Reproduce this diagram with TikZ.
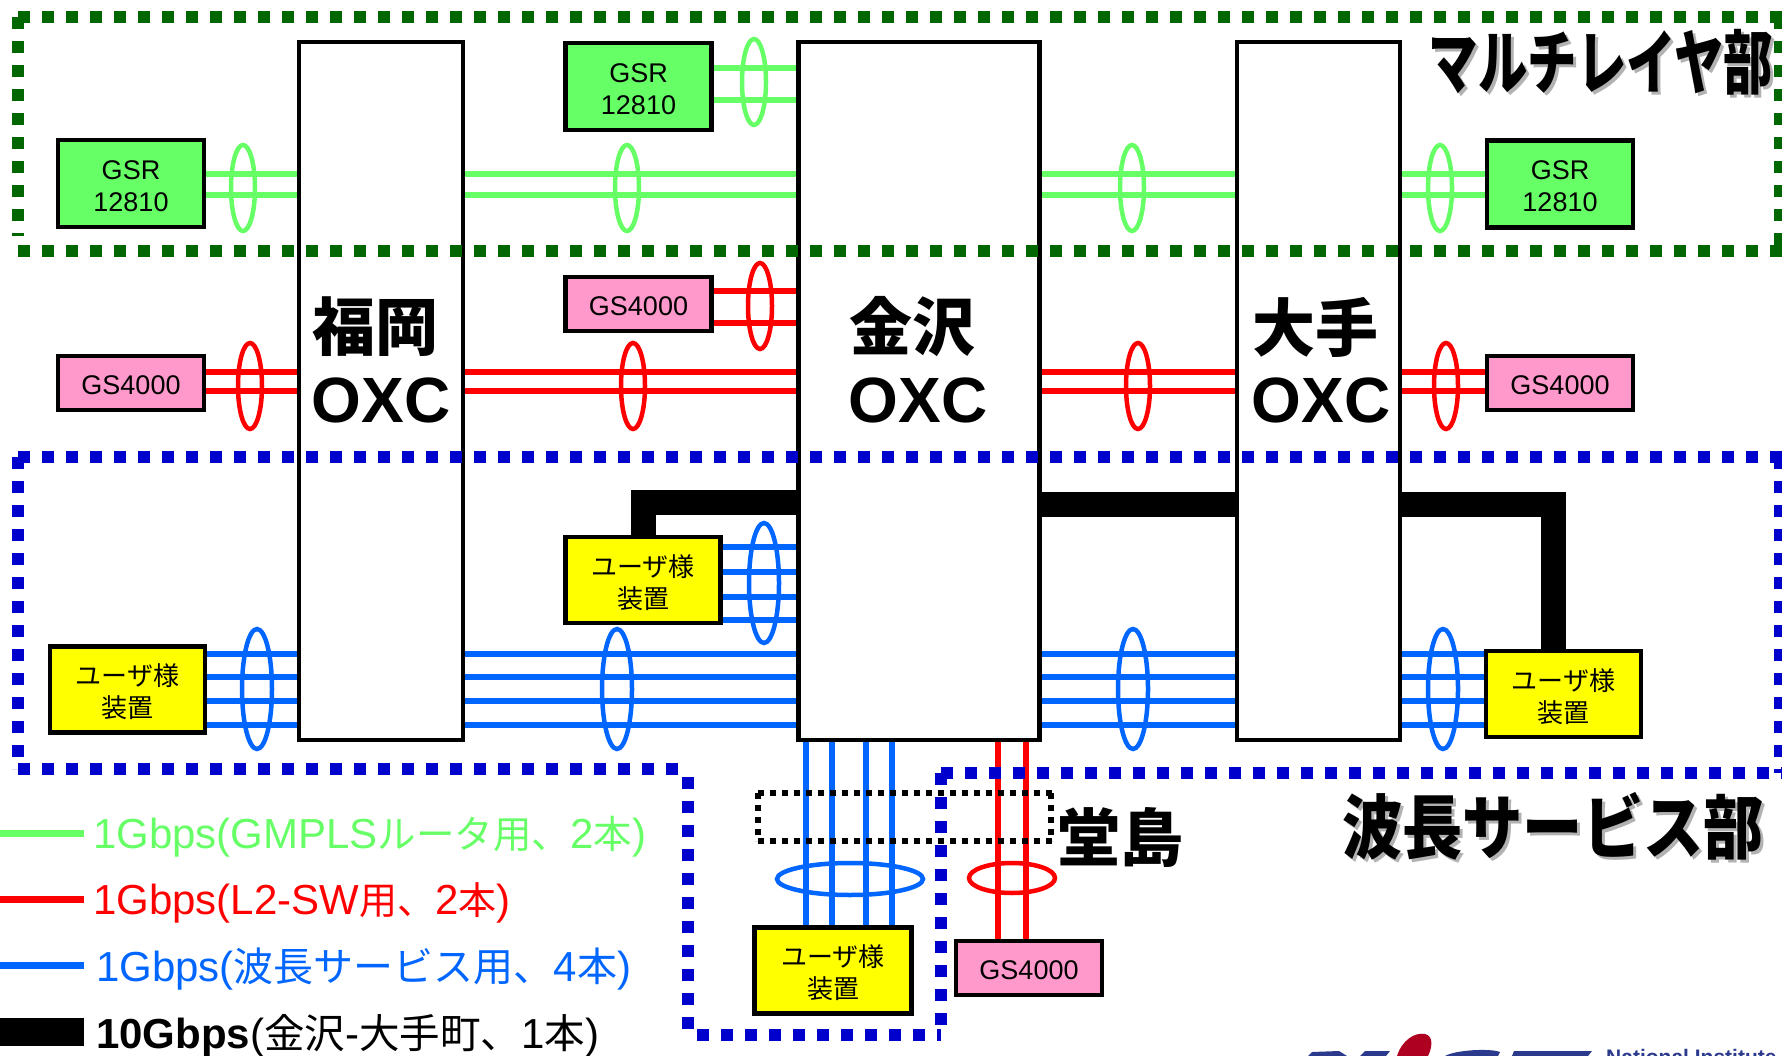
\documentclass[tikz,border=0pt]{standalone}
\usepackage{fontspec}
\usetikzlibrary{shapes.geometric}
\setmainfont{Liberation Sans}
\newfontfamily\cjk{Noto Sans CJK JP}
\definecolor{lgreen}{HTML}{66FF66}
\definecolor{lred}{HTML}{FF0000}
\definecolor{lblue}{HTML}{0066FF}
\definecolor{dgreen}{HTML}{006600}
\definecolor{dblue}{HTML}{0000CC}
\definecolor{gsrfill}{HTML}{66FF66}
\definecolor{gsfill}{HTML}{FF99CC}
\definecolor{usrfill}{HTML}{FFFF00}
\definecolor{logoblue}{HTML}{2B3A8C}
\definecolor{logored}{HTML}{AE0020}
\tikzset{
  oxc/.style={draw=black,line width=4.5,fill=white,minimum height=698,inner sep=0},
  dev/.style={draw=black,line width=4.5,inner sep=0,align=center,font=\fontsize{27}{32}\selectfont},
  gsrbox/.style={dev,fill=gsrfill,minimum width=146,minimum height=87},
  gsbox/.style={dev,fill=gsfill,minimum width=146,minimum height=54},
  usrbox/.style={dev,fill=usrfill,minimum width=155,minimum height=86,font=\fontsize{26}{32}\selectfont\cjk},
  gline/.style={draw=lgreen,line width=6},
  rline/.style={draw=lred,line width=6},
  bline/.style={draw=lblue,line width=6},
  kline/.style={draw=black,line width=25},
  ring/.style={ellipse,inner sep=0,fill=none,line width=4.5},
  gring/.style={ring,draw=lgreen,minimum width=24,minimum height=86},
  rring/.style={ring,draw=lred,minimum width=24,minimum height=86},
  bring/.style={ring,draw=lblue,minimum width=30,minimum height=120},
  oxclabel/.style={inner sep=0,font=\fontsize{64}{64}\selectfont\bfseries},
  oxccjk/.style={inner sep=0,font=\fontsize{63}{63}\selectfont\cjk\bfseries},
  legendtext/.style={inner sep=0,anchor=west,font=\fontsize{42}{42}\selectfont},
  legendline/.style={line width=7},
  green dots/.style={draw=dgreen,line width=12,dash pattern=on 12 off 12},
  blue dots/.style={draw=dblue,line width=12,dash pattern=on 12 off 12},
  black dots/.style={draw=black,line width=6,dash pattern=on 6 off 6},
}
\newcommand{\hlink}[4]{\foreach \yy in {#4} {\draw[#1] (#2.east |- 0,\yy) -- (#3.west |- 0,\yy);}}
\newcommand{\vlink}[4]{\foreach \xx in {#4} {\draw[#1] (#2.south -| \xx,0) -- (#3.north -| \xx,0);}}
\newcommand{\dn}[1]{\raisebox{-2.5pt}[\height][\depth]{#1}}
\newcommand{\lc}[2]{{\fontsize{#1}{#1}\selectfont\cjk #2}}
\begin{document}
\begin{tikzpicture}[x=1pt,y=-1pt]
\useasboundingbox (0,0) rectangle (1782,1056);
\clip (0,0) rectangle (1782,1056);
% OXC boxes
\node[oxc,minimum width=164] (fuk) at (381,391) {};
\node[oxc,minimum width=241] (kan) at (919,391) {};
\node[oxc,minimum width=163] (ote) at (1318.5,391) {};
% devices
\node[gsrbox] (gsrL) at (131,183.5) {\dn{GSR}\\\dn{12810}};
\node[gsrbox] (gsrM) at (638.5,86.5) {\dn{GSR}\\\dn{12810}};
\node[gsrbox] (gsrR) at (1560,184) {\dn{GSR}\\\dn{12810}};
\node[gsbox] (gsL) at (131,383) {\dn{GS4000}};
\node[gsbox] (gsM) at (638.5,304) {\dn{GS4000}};
\node[gsbox] (gsR) at (1560,383) {\dn{GS4000}};
\node[gsbox] (gsB) at (1029,968) {\dn{GS4000}};
\node[usrbox] (usrL) at (127.5,689.5) {\dn{ユーザ様}\\\dn{装置}};
\node[usrbox] (usrM) at (643,580) {\dn{ユーザ様}\\\dn{装置}};
\node[usrbox] (usrR) at (1563.5,694) {\dn{ユーザ様}\\\dn{装置}};
\node[usrbox,minimum width=157] (usrB) at (833,970.5) {\dn{ユーザ様}\\\dn{装置}};
% green links
\hlink{gline}{gsrL}{fuk}{174,195}
\hlink{gline}{fuk}{kan}{174,195}
\hlink{gline}{kan}{ote}{174,195}
\hlink{gline}{ote}{gsrR}{174,195}
\hlink{gline}{gsrM}{kan}{68,100}
% red links
\hlink{rline}{gsL}{fuk}{372,391}
\hlink{rline}{fuk}{kan}{372,391}
\hlink{rline}{kan}{ote}{372,391}
\hlink{rline}{ote}{gsR}{372,391}
\hlink{rline}{gsM}{kan}{291,323}
% blue links
\hlink{bline}{usrL}{fuk}{654,677,701,725}
\hlink{bline}{fuk}{kan}{654,677,701,725}
\hlink{bline}{kan}{ote}{654,677,701,725}
\hlink{bline}{ote}{usrR}{654,677,701,725}
\hlink{bline}{usrM}{kan}{547,572,597,620}
\vlink{bline}{kan}{usrB}{806,832,866,892}
\vlink{rline}{kan}{gsB}{998,1026}
% 10G links
\draw[kline] (kan.east |- 0,504) -- (ote.west |- 0,504);
\draw[kline] (kan.west |- 0,502) -| (usrM.north -| 643,0);
\draw[kline] (ote.east |- 0,504) -| (usrR.north -| 1553,0);
% rings
\node[gring] (g1) at (243,188) {};
\node[gring] (g2) at (627,188) {};
\node[gring] (g3) at (1132,188) {};
\node[gring] (g4) at (1440,188) {};
\node[gring] (g5) at (754,82) {};
\node[rring] (r1) at (250,386) {};
\node[rring] (r2) at (633,386) {};
\node[rring] (r3) at (1138,386) {};
\node[rring] (r4) at (1446,386) {};
\node[rring] (r5) at (760,306) {};
\node[bring] (b1) at (257,689) {};
\node[bring] (b2) at (617,689) {};
\node[bring] (b3) at (1133,689) {};
\node[bring] (b4) at (1443,689) {};
\node[bring] (b5) at (764,583) {};
\node[ring,draw=lblue,minimum width=146,minimum height=32] (b6) at (850,879) {};
\node[ring,draw=lred,minimum width=86,minimum height=30] (r6) at (1012,878) {};
% OXC labels
\node[oxccjk] (t1) at (375,327) {福岡};
\node[oxclabel] (o1) at (381,400) {OXC};
\node[oxccjk] (t2) at (912,327) {金沢};
\node[oxclabel] (o2) at (918,400) {OXC};
\node[oxccjk] (t3) at (1315,327) {大手};
\node[oxclabel] (o3) at (1321,400) {OXC};
% region frames
\draw[green dots] (18,17) -- (1782,17) (18,251) -- (1782,251) (18,17) -- (18,236) (1780,17) -- (1780,251);
\draw[blue dots] (18,457) -- (1782,457) (18,457) -- (18,769) (1780,457) -- (1780,773)
  (18,769) -- (688,769) (688,777) -- (688,1035) (697,1035) -- (941,1035) (941,773) -- (941,1035) (941,773) -- (1782,773);
\draw[black dots] (758,793) -- (1053,793) (758,841) -- (1053,841) (758,793) -- (758,841) (1051,793) -- (1051,841);
% region titles
\node[inner sep=0,gray!60,xscale=.706,font=\fontsize{70}{70}\selectfont\cjk\bfseries] (s1) at (1604,65) {マルチレイヤ部};
\node[inner sep=0,xscale=.706,font=\fontsize{70}{70}\selectfont\cjk\bfseries] (m1) at (1601,62) {マルチレイヤ部};
\node[inner sep=0,gray!60,xscale=.86,font=\fontsize{70}{70}\selectfont\cjk\bfseries] (s2) at (1556,829) {波長サービス部};
\node[inner sep=0,xscale=.86,font=\fontsize{70}{70}\selectfont\cjk\bfseries] (m2) at (1553,826) {波長サービス部};
\node[inner sep=0,font=\fontsize{63}{63}\selectfont\cjk\bfseries] (doj) at (1120,837) {堂島};
% legend
\coordinate (lg1) at (0,833); \coordinate (lg2) at (0,899); \coordinate (lg3) at (0,965); \coordinate (lg4) at (0,1032);
\node[legendtext,text=lgreen] (lt1) at (93,837) {1Gbps(GMPLS\lc{38.5}{ルータ用、}2\lc{38.5}{本})};
\node[legendtext,text=lred] (lt2) at (93,903) {1Gbps(L2-SW\lc{38}{用、}2\lc{38}{本})};
\node[legendtext,text=lblue] (lt3) at (96,969) {1Gbps(\lc{40}{波長サービス用、}4\lc{40}{本})};
\node[legendtext,text=black] (lt4) at (96,1036) {\textbf{10Gbps}(\lc{40.5}{金沢}-\lc{40.5}{大手町、}1\lc{40.5}{本})};
\draw[gline,legendline] (lg1) -- (lg1 -| 84,0);
\draw[rline,legendline] (lg2) -- (lg2 -| 84,0);
\draw[bline,legendline] (lg3) -- (lg3 -| 84,0);
\draw[kline,line width=28] (lg4) -- (lg4 -| 84,0);
% logo fragment
\fill[logoblue] (1308,1056) -- (1312,1052) -- (1339,1051) -- (1347,1056) -- cycle;
\fill[logoblue] (1360,1056) -- (1365,1051) -- (1390,1051) -- (1386,1056) -- cycle;
\fill[logored] (1397,1056) .. controls (1402,1040) and (1415,1032) .. (1425,1034) .. controls (1434,1036) and (1432,1048) .. (1428,1056) -- cycle;
\fill[logoblue] (1445,1056) .. controls (1455,1050) and (1490,1048) .. (1500,1052) -- (1498,1056) -- cycle;
\fill[logoblue] (1512,1056) -- (1514,1051) -- (1592,1051) -- (1588,1056) -- cycle;
\node[inner sep=0,anchor=north west,text=logoblue,font=\fontsize{21}{21}\selectfont\bfseries] (logo) at (1606,1049) {National Institute};
\end{tikzpicture}
\end{document}
